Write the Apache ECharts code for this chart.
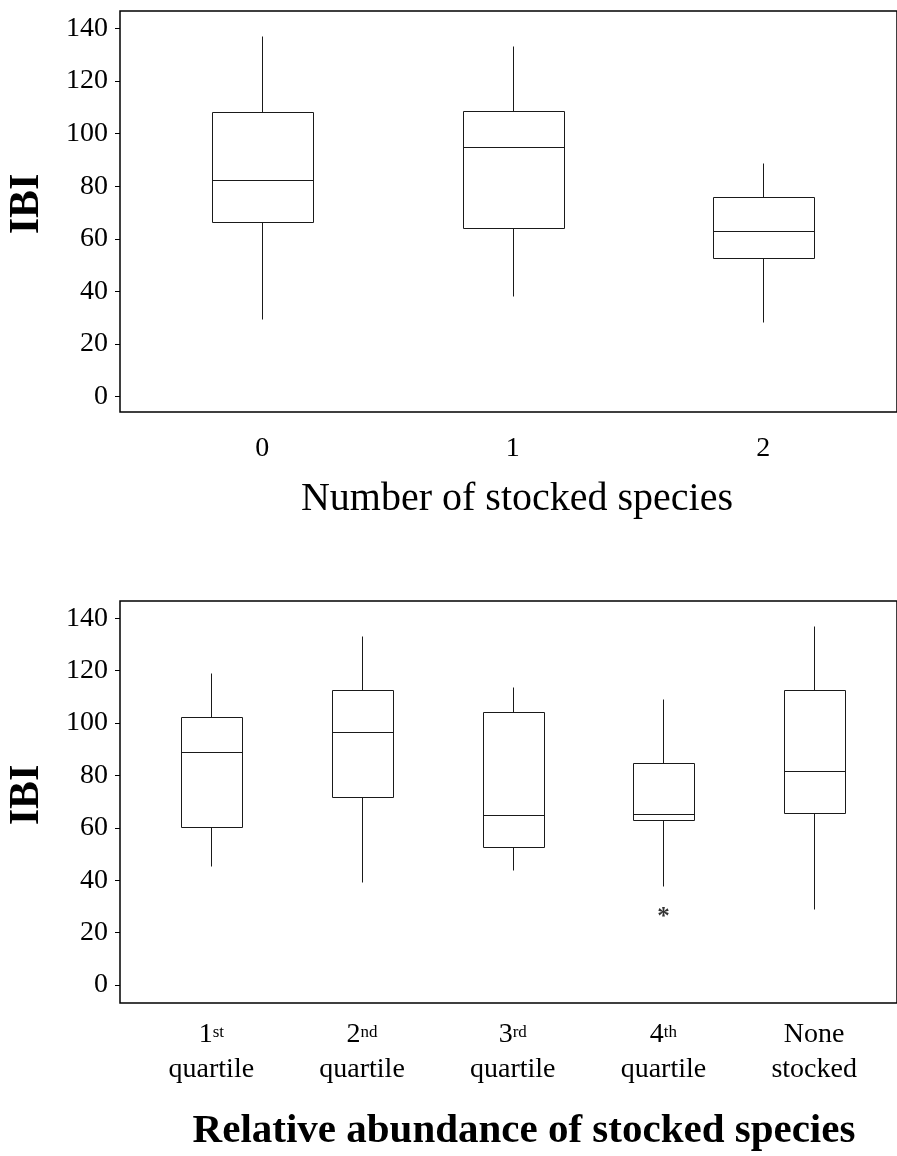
<!DOCTYPE html>
<html><head><meta charset="utf-8">
<script src="https://cdn.jsdelivr.net/npm/echarts@6/dist/echarts.min.js"></script>
<style>html,body{margin:0;padding:0;background:#fff}#c{width:897px;height:1156px}</style>
</head><body><div id="c"></div>
<script>
// ---- data ----
const yTicks = [0, 20, 40, 60, 80, 100, 120, 140];
const categories1 = ['0', '1', '2'];
// [lower whisker, Q1, median, Q3, upper whisker]
const boxes1 = [
  [29.5, 66.3, 82.3, 108.1, 137.2],
  [38.4, 64.0, 94.8, 108.5, 133.4],
  [28.3, 52.6, 63.0, 76.0, 88.7]
];
const categories2 = ['1st quartile', '2nd quartile', '3rd quartile', '4th quartile', 'None stocked'];
const boxes2 = [
  [45.4, 60.3, 89.0, 102.4, 119.0],
  [39.2, 71.8, 96.4, 112.6, 133.3],
  [43.9, 52.8, 64.8, 104.2, 113.6],
  [37.9, 63.0, 65.2, 84.7, 109.3],
  [28.9, 65.8, 81.6, 112.6, 137.1]
];
const outliers2 = [['4th quartile', 27.6]];
const xTitle1 = 'Number of stocked species';
const xTitle2 = 'Relative abundance of stocked species';
const yTitle = 'IBI';

// ---- chart ----
const serif = '"Liberation Serif","Times New Roman",serif';
const chart = echarts.init(document.getElementById('c'), null, {renderer: 'canvas'});

function fmtCat(v) {
  const m = v.match(/^(\d)(st|nd|rd|th) (.*)$/);
  if (m) return m[1] + '{sup|' + m[2] + '}\n' + m[3];
  return v.replace(' ', '\n');
}

const frameY = (gi, min, max) => ({
  gridIndex: gi, type: 'value', min: min, max: max,
  axisLine: {show: false},
  splitLine: {show: false},
  axisTick: {show: true, length: 5, inside: false, customValues: yTicks, lineStyle: {color: '#000', width: 1}},
  axisLabel: {show: true, customValues: yTicks, margin: 12, fontSize: 28, fontFamily: serif, color: '#000'}
});
const dataY = (gi, min, max) => ({gridIndex: gi, type: 'value', min: min, max: max, show: false});
const frameX = gi => ({gridIndex: gi, type: 'value', min: 0, max: 1, show: false});

function boxSeries(xi, yi, boxes, frac) {
  return {
    type: 'custom', xAxisIndex: xi, yAxisIndex: yi, silent: true,
    data: boxes.map((b, i) => [i].concat(b)),
    encode: {x: 0, y: [1, 2, 3, 4, 5]},
    renderItem: function (params, api) {
      const i = api.value(0);
      const lo = api.coord([i, api.value(1)]);
      const q1 = api.coord([i, api.value(2)]);
      const md = api.coord([i, api.value(3)]);
      const q3 = api.coord([i, api.value(4)]);
      const hi = api.coord([i, api.value(5)]);
      const w = api.size([1, 0])[0] * frac;
      const cx = Math.round(lo[0]) + 0.5;
      const L = Math.round(cx - w / 2) + 0.5, R = Math.round(cx + w / 2) + 0.5;
      const r = v => Math.round(v) + 0.5;
      const st = {stroke: '#1a1a1a', lineWidth: 1, fill: null};
      return {
        type: 'group',
        children: [
          {type: 'line', shape: {x1: cx, y1: r(hi[1]), x2: cx, y2: r(q3[1])}, style: st},
          {type: 'line', shape: {x1: cx, y1: r(q1[1]), x2: cx, y2: r(lo[1])}, style: st},
          {type: 'rect', shape: {x: L, y: r(q3[1]), width: R - L, height: r(q1[1]) - r(q3[1])}, style: {stroke: '#1a1a1a', lineWidth: 1, fill: '#fff'}},
          {type: 'line', shape: {x1: L, y1: r(md[1]), x2: R, y2: r(md[1])}, style: st}
        ]
      };
    }
  };
}

chart.setOption({
  animation: false,
  backgroundColor: '#fff',
  grid: [
    {left: 120, right: -3, top: 11, height: 401, show: true, borderColor: '#000', borderWidth: 1.5, backgroundColor: 'transparent'},
    {left: 137, width: 751.5, top: 11, height: 401},
    {left: 120, right: -3, top: 601, height: 402, show: true, borderColor: '#000', borderWidth: 1.5, backgroundColor: 'transparent'},
    {left: 136, width: 753.5, top: 601, height: 402}
  ],
  xAxis: [
    frameX(0),
    {gridIndex: 1, type: 'category', data: categories1, axisLine: {show: false}, axisTick: {show: false},
     axisLabel: {interval: 0, margin: 23, fontSize: 28, fontFamily: serif, color: '#000'}},
    frameX(2),
    {gridIndex: 3, type: 'category', data: categories2, axisLine: {show: false}, axisTick: {show: false},
     axisLabel: {interval: 0, hideOverlap: false, margin: 14, formatter: fmtCat, fontSize: 28, fontFamily: serif, color: '#000', lineHeight: 35,
       rich: {sup: {fontSize: 17, fontFamily: serif, color: '#000', verticalAlign: 'middle', padding: [0, 0, 4, 0]}}}}
  ],
  yAxis: [
    frameY(0, -5.8, 146.6),
    dataY(1, -5.8, 146.6),
    frameY(2, -6.9, 146.6),
    dataY(3, -6.9, 146.6)
  ],
  series: [
    boxSeries(1, 1, boxes1, 0.407),
    boxSeries(3, 3, boxes2, 0.403),
    {type: 'scatter', xAxisIndex: 3, yAxisIndex: 3, data: outliers2, symbol: 'circle', symbolSize: 1,
     itemStyle: {color: 'rgba(0,0,0,0)'}, silent: true,
     label: {show: true, position: 'inside', formatter: '*', fontSize: 25, fontWeight: 'bold', fontFamily: serif, color: '#000', offset: [0, 5]}}
  ],
  graphic: [
    {type: 'text', x: 517, y: 499, style: {text: xTitle1, font: '40px ' + serif, fill: '#000', textAlign: 'center', textVerticalAlign: 'middle'}},
    {type: 'text', x: 524, y: 1131, style: {text: xTitle2, font: 'bold 41px ' + serif, fill: '#000', textAlign: 'center', textVerticalAlign: 'middle'}},
    {type: 'text', x: 27, y: 204, rotation: Math.PI / 2, style: {text: yTitle, font: 'bold 42px ' + serif, fill: '#000', textAlign: 'center', textVerticalAlign: 'middle'}},
    {type: 'text', x: 27, y: 795, rotation: Math.PI / 2, style: {text: yTitle, font: 'bold 42px ' + serif, fill: '#000', textAlign: 'center', textVerticalAlign: 'middle'}}
  ]
});
</script></body></html>
